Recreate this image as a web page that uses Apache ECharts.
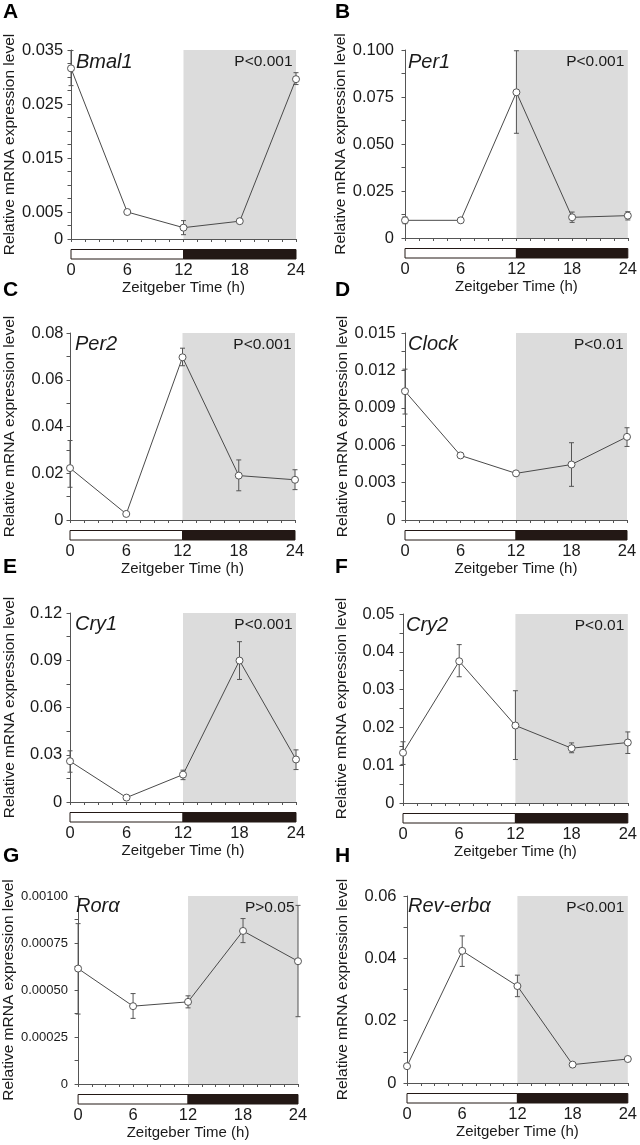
<!DOCTYPE html>
<html><head><meta charset="utf-8">
<script src="https://cdn.jsdelivr.net/npm/echarts@6/dist/echarts.min.js"></script>
<style>html,body{margin:0;padding:0;background:#fff}#c{width:640px;height:1145px}</style>
</head><body><div id="c"></div>
<script>
// ---------- data ----------
const hours = [0, 6, 12, 18, 24];
const xTickLabels = ['0', '6', '12', '18', '24'];
const lightPhase = [0, 12];
const darkPhase = [12, 24];

const bmal1Mean = [0.0316, 0.0050, 0.0021, 0.0033, 0.0296];
const bmal1Hi   = [0.0349, 0.0052, 0.0034, 0.0036, 0.0308];
const bmal1Lo   = [0.0284, 0.0048, 0.0008, 0.0030, 0.0286];
const bmal1Ticks = ['0', '0.005', '0.015', '0.025', '0.035'];

const per1Mean = [0.0094, 0.0094, 0.0775, 0.0110, 0.0119];
const per1Hi   = [0.0112, 0.0098, 0.0996, 0.0138, 0.0140];
const per1Lo   = [0.0076, 0.0090, 0.0557, 0.0083, 0.0096];
const per1Ticks = ['0', '0.025', '0.050', '0.075', '0.100'];

const per2Mean = [0.0222, 0.0026, 0.0696, 0.0190, 0.0172];
const per2Hi   = [0.0340, 0.0030, 0.0735, 0.0257, 0.0215];
const per2Lo   = [0.0140, 0.0022, 0.0660, 0.0125, 0.0130];
const per2Ticks = ['0', '0.02', '0.04', '0.06', '0.08'];

const clockMean = [0.01033, 0.00518, 0.00374, 0.00445, 0.00667];
const clockHi   = [0.0121, 0.0054, 0.0038, 0.0062, 0.0074];
const clockLo   = [0.0085, 0.0050, 0.0037, 0.0027, 0.0059];
const clockTicks = ['0', '0.003', '0.006', '0.009', '0.012', '0.015'];

const cry1Mean = [0.0259, 0.0028, 0.0174, 0.0898, 0.0270];
const cry1Hi   = [0.0325, 0.0030, 0.0202, 0.1018, 0.0331];
const cry1Lo   = [0.0189, 0.0026, 0.0142, 0.0778, 0.0206];
const cry1Ticks = ['0', '0.03', '0.06', '0.09', '0.12'];

const cry2Mean = [0.0133, 0.0375, 0.0205, 0.0145, 0.0160];
const cry2Hi   = [0.0162, 0.0419, 0.0297, 0.0159, 0.0188];
const cry2Lo   = [0.0102, 0.0334, 0.0115, 0.0133, 0.0131];
const cry2Ticks = ['0', '0.01', '0.02', '0.03', '0.04', '0.05'];

const roraMean = [0.000614, 0.000414, 0.000437, 0.000814, 0.000653];
const roraHi   = [0.000853, 0.000481, 0.000469, 0.000880, 0.000950];
const roraLo   = [0.000372, 0.000349, 0.000405, 0.000752, 0.000358];
const roraTicks = ['0', '0.00025', '0.00050', '0.00075', '0.00100'];

const reverbMean = [0.0054, 0.0424, 0.0311, 0.0059, 0.0077];
const reverbHi   = [0.0060, 0.0472, 0.0346, 0.0062, 0.0079];
const reverbLo   = [0.0048, 0.0374, 0.0277, 0.0056, 0.0075];
const reverbTicks = ['0', '0.02', '0.04', '0.06'];

const panelLetters = ['A', 'B', 'C', 'D', 'E', 'F', 'G', 'H'];
const geneNames = ['Bmal1', 'Per1', 'Per2', 'Clock', 'Cry1', 'Cry2', 'Rorα', 'Rev-erbα'];
const pValues = ['P<0.001', 'P<0.001', 'P<0.001', 'P<0.01', 'P<0.001', 'P<0.01', 'P>0.05', 'P<0.001'];
const yTitle = 'Relative mRNA expression level';
const xTitle = 'Zeitgeber Time (h)';

const panels = [
  {mean: bmal1Mean, hi: bmal1Hi, lo: bmal1Lo, ticks: bmal1Ticks, max: 0.035, step: 0.0025},
  {mean: per1Mean, hi: per1Hi, lo: per1Lo, ticks: per1Ticks, max: 0.1, step: 0.0125},
  {mean: per2Mean, hi: per2Hi, lo: per2Lo, ticks: per2Ticks, max: 0.08, step: 0.01},
  {mean: clockMean, hi: clockHi, lo: clockLo, ticks: clockTicks, max: 0.015, step: 0.0015},
  {mean: cry1Mean, hi: cry1Hi, lo: cry1Lo, ticks: cry1Ticks, max: 0.12, step: 0.015},
  {mean: cry2Mean, hi: cry2Hi, lo: cry2Lo, ticks: cry2Ticks, max: 0.05, step: 0.005},
  {mean: roraMean, hi: roraHi, lo: roraLo, ticks: roraTicks, max: 0.001, step: 0.000125},
  {mean: reverbMean, hi: reverbHi, lo: reverbLo, ticks: reverbTicks, max: 0.06, step: 0.01}
];

// ---------- layout (pixels) ----------
const layout = [
  {x0: 71,  x24: 296, top: 50,  y0: 239,  yOff: 3.3, gapY: 50, gapX: 41, lab: 16.5, letterTop: 2,   geneLeft: 76,  geneTop: 52},
  {x0: 405, x24: 629, top: 50,  y0: 238,  yOff: 6.5, gapY: 48, gapX: 41, lab: 16.5, letterTop: 2,   geneLeft: 408, geneTop: 52},
  {x0: 70,  x24: 295, top: 333, y0: 520,  yOff: 2,   gapY: 50, gapX: 41, lab: 16.5, letterTop: 280, geneLeft: 75,  geneTop: 334},
  {x0: 405, x24: 627, top: 333, y0: 520,  yOff: 4.7, gapY: 49, gapX: 41, lab: 16.5, letterTop: 280, geneLeft: 408, geneTop: 334},
  {x0: 70,  x24: 296, top: 613, y0: 802,  yOff: 3.3, gapY: 49, gapX: 40, lab: 16.5, letterTop: 557, geneLeft: 75,  geneTop: 614},
  {x0: 403, x24: 628, top: 614, y0: 803,  yOff: 4,   gapY: 49, gapX: 40, lab: 16.5, letterTop: 557, geneLeft: 406, geneTop: 615},
  {x0: 74,  x24: 298, top: 896, y0: 1084, yOff: 5.7, gapY: 50, gapX: 37, lab: 13,   letterTop: 846, geneLeft: 76,  geneTop: 896},
  {x0: 407, x24: 631, top: 896, y0: 1083, yOff: 6,   gapY: 50, gapX: 37, lab: 16.5, letterTop: 846, geneLeft: 408, geneTop: 896}
];

const FONT = '"Liberation Sans", Arial, Helvetica, sans-serif';
const TXT = '#1a1a1a';
const AX = '#555555';
const LINE = '#4a4a4a';
const SHADE = '#dcdcdc';
const DARK = '#231815';

const chart = echarts.init(document.getElementById('c'), null, {renderer: 'canvas', devicePixelRatio: 1});
const grids = [], xAxes = [], yAxes = [], series = [], titles = [];

panels.forEach((p, i) => {
  const L = layout[i];
  grids.push({left: L.x0, top: L.top, width: L.x24 - L.x0, height: L.y0 - L.top, containLabel: false});
  xAxes.push({
    type: 'value', gridIndex: i, min: 0, max: 24, interval: 6,
    axisLine: {show: true, onZero: false, lineStyle: {color: AX, width: 1}},
    axisTick: {show: true, inside: false, length: 3, lineStyle: {color: AX, width: 1}},
    minorTick: {show: true, splitNumber: 4, length: 3, lineStyle: {color: AX, width: 1}},
    splitLine: {show: false}, minorSplitLine: {show: false},
    axisLabel: {margin: 23, fontSize: 16.5, color: TXT, fontFamily: FONT,
      formatter: v => { const k = hours.indexOf(v); return k >= 0 ? xTickLabels[k] : ''; }},
    name: xTitle, nameLocation: 'middle', nameGap: L.gapX,
    nameTextStyle: {fontSize: 15, color: TXT, fontFamily: FONT}
  });
  yAxes.push({
    type: 'value', gridIndex: i, min: 0, max: p.max, interval: p.step, offset: L.yOff,
    axisLine: {show: true, lineStyle: {color: AX, width: 1}},
    axisTick: {show: true, inside: false, length: 3.5, lineStyle: {color: AX, width: 1}},
    splitLine: {show: false},
    axisLabel: {margin: 4.5, fontSize: L.lab, color: TXT, fontFamily: FONT, showMaxLabel: true, showMinLabel: true,
      formatter: v => { const hit = p.ticks.find(t => Math.abs(parseFloat(t) - v) < p.step * 0.01); return hit !== undefined ? hit : ''; }},
    name: yTitle, nameLocation: 'middle', nameGap: L.gapY,
    nameTextStyle: {fontSize: 15.5, color: TXT, fontFamily: FONT}
  });
  // light/dark bar
  series.push({
    type: 'custom', xAxisIndex: i, yAxisIndex: i, clip: false, silent: true, z: 2,
    data: [[lightPhase[0], lightPhase[1], 0, 0], [darkPhase[0], darkPhase[1], 0, 1]],
    encode: {x: [0, 1], y: 2},
    renderItem: (params, api) => {
      const a = api.coord([api.value(0), 0]);
      const b = api.coord([api.value(1), 0]);
      const dark = api.value(3) === 1;
      return {type: 'rect', shape: {x: a[0], y: a[1] + 10.5, width: b[0] - a[0], height: 9.5},
        style: {fill: dark ? DARK : '#ffffff', stroke: DARK, lineWidth: 1}};
    }
  });
  // error bars
  series.push({
    type: 'custom', xAxisIndex: i, yAxisIndex: i, clip: false, silent: true, z: 3,
    data: hours.map((h, k) => [h, p.lo[k], p.hi[k]]),
    encode: {x: 0, y: [1, 2]},
    renderItem: (params, api) => {
      const x = api.value(0);
      const lo = api.coord([x, api.value(1)]);
      const hi = api.coord([x, api.value(2)]);
      const w = 2.5;
      const st = {stroke: AX, lineWidth: 1};
      return {type: 'group', children: [
        {type: 'line', shape: {x1: lo[0], y1: lo[1], x2: hi[0], y2: hi[1]}, style: st},
        {type: 'line', shape: {x1: lo[0] - w, y1: lo[1], x2: lo[0] + w, y2: lo[1]}, style: st},
        {type: 'line', shape: {x1: hi[0] - w, y1: hi[1], x2: hi[0] + w, y2: hi[1]}, style: st}
      ]};
    }
  });
  // mean line with dark-phase shading
  series.push({
    type: 'line', xAxisIndex: i, yAxisIndex: i, z: 5,
    data: hours.map((h, k) => [h, p.mean[k]]),
    symbol: 'circle', symbolSize: 7, showAllSymbol: true,
    itemStyle: {color: '#ffffff', borderColor: AX, borderWidth: 1},
    lineStyle: {color: LINE, width: 1},
    markArea: {
      silent: true,
      itemStyle: {color: SHADE},
      label: {show: true, position: 'insideTopRight', distance: 3.5, formatter: pValues[i],
        fontSize: 15.5, color: TXT, fontFamily: FONT},
      data: [[{xAxis: darkPhase[0], yAxis: 0}, {xAxis: darkPhase[1], yAxis: p.max}]]
    }
  });
  titles.push({text: panelLetters[i], left: i % 2 === 0 ? 3 : 335, top: L.letterTop, padding: 0,
    textStyle: {fontSize: 21, fontWeight: 'bold', color: '#000', fontFamily: FONT}});
  titles.push({text: geneNames[i], left: L.geneLeft, top: L.geneTop, padding: 0,
    textStyle: {fontSize: 20, fontStyle: 'italic', fontWeight: 'normal', color: TXT, fontFamily: FONT}});
});

chart.setOption({
  animation: false,
  backgroundColor: '#ffffff',
  title: titles,
  grid: grids,
  xAxis: xAxes,
  yAxis: yAxes,
  series: series
});
</script>
</body></html>
